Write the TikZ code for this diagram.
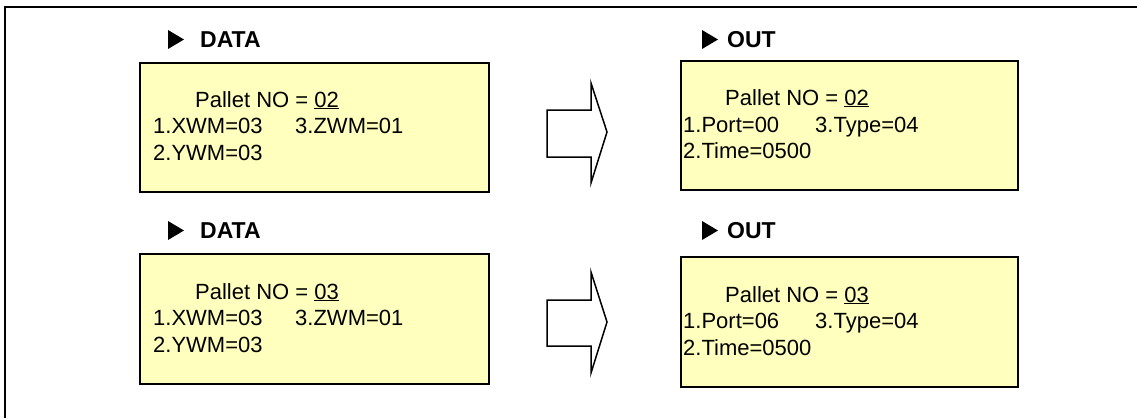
\documentclass[tikz,border=0pt]{standalone}
\usepackage{fontspec}
\setmainfont{Liberation Sans}
\definecolor{boxfill}{RGB}{255,255,190}
\definecolor{shadowgray}{RGB}{150,150,150}
\begin{document}
\begin{tikzpicture}[x=1pt,y=-1pt,
  panel/.style={draw=black,line width=1.5pt,fill=boxfill,inner sep=0pt,anchor=north west},
  txt/.style={anchor=base west,inner sep=0pt,font=\fontsize{22}{26}\selectfont},
  head/.style={anchor=base west,inner sep=0pt,font=\fontsize{23}{27}\selectfont\bfseries},
  bigarrow/.style={draw=black,line width=1.5pt,fill=white,line join=miter},
  tri/.style={fill=black}]
\useasboundingbox (0,0) rectangle (1137,418);
% frame
\draw[line width=2.5pt] (5,418) -- (5,7) -- (1137,7);
% boxes with shadow
\newcommand{\panelbox}[5]{%
  \fill[shadowgray] (#2+2,#3+2) rectangle (#4+2,#5+2);
  \node[panel,minimum width=#4-#2,minimum height=#5-#3] (#1) at (#2,#3) {};}
\panelbox{d1}{139}{62}{488}{191}
\panelbox{o1}{680}{60}{1017}{189}
\panelbox{d2}{139}{253}{488}{383}
\panelbox{o2}{680}{256}{1017}{386}
% headings
\fill[tri] (168,30) -- (184,39.5) -- (168,49) -- cycle;
\node[head] (hd1) at (200,47.5) {DATA};
\fill[tri] (702,30) -- (718,39.5) -- (702,49) -- cycle;
\node[head] (ho1) at (727,47.5) {OUT};
\fill[tri] (168,221) -- (184,230.5) -- (168,240) -- cycle;
\node[head] (hd2) at (200,238.5) {DATA};
\fill[tri] (702,221) -- (718,230.5) -- (702,240) -- cycle;
\node[head] (ho2) at (727,238.5) {OUT};
% texts, box d1
\node[txt] (d1a) at (195,107) {Pallet NO = \underline{02}};
\node[txt] (d1b) at (153,133) {1.XWM=03};
\node[txt] (d1c) at (295,133) {3.ZWM=01};
\node[txt] (d1d) at (153,160) {2.YWM=03};
% box o1
\node[txt] (o1a) at (725,105) {Pallet NO = \underline{02}};
\node[txt] (o1b) at (683,132) {1.Port=00};
\node[txt] (o1c) at (815,132) {3.Type=04};
\node[txt] (o1d) at (683,158) {2.Time=0500};
% box d2
\node[txt] (d2a) at (195,299) {Pallet NO = \underline{03}};
\node[txt] (d2b) at (153,325) {1.XWM=03};
\node[txt] (d2c) at (295,325) {3.ZWM=01};
\node[txt] (d2d) at (153,352) {2.YWM=03};
% box o2
\node[txt] (o2a) at (725,302) {Pallet NO = \underline{03}};
\node[txt] (o2b) at (683,328) {1.Port=06};
\node[txt] (o2c) at (815,328) {3.Type=04};
\node[txt] (o2d) at (683,355) {2.Time=0500};
% block arrows
\draw[bigarrow] (547,110) -- (591,110) -- (591,83) -- (607,132) -- (591,183) -- (591,157) -- (547,157) -- cycle;
\draw[bigarrow] (547,300) -- (591,300) -- (591,272) -- (607,322) -- (591,373) -- (591,346) -- (547,346) -- cycle;
\end{tikzpicture}
\end{document}
